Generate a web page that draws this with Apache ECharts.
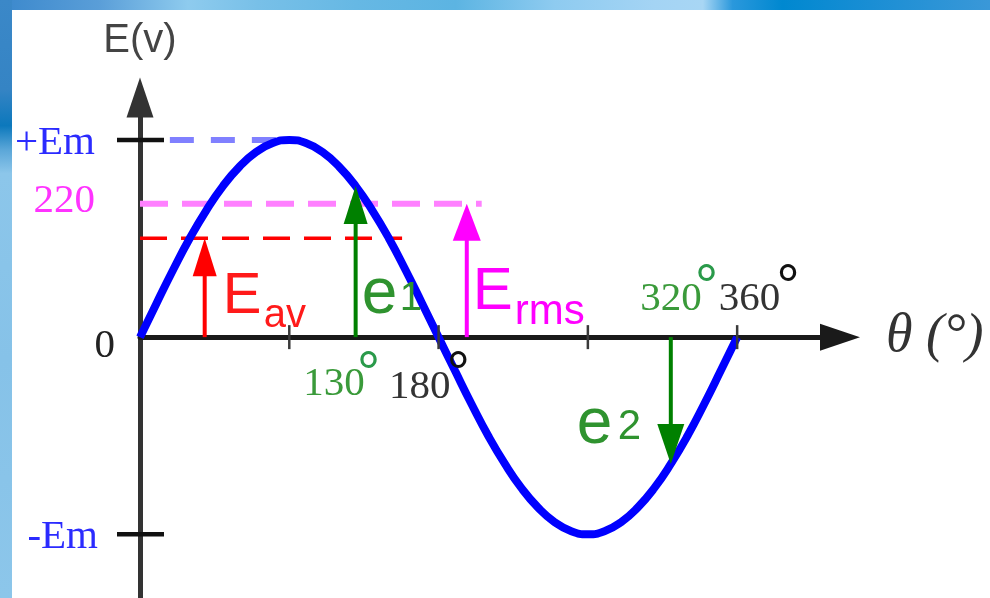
<!DOCTYPE html>
<html>
<head>
<meta charset="utf-8">
<script src="https://cdn.jsdelivr.net/npm/echarts@6/dist/echarts.min.js"></script>
<style>
  html, body { margin: 0; padding: 0; background: #fff; }
  #frame { position: relative; width: 990px; height: 598px; overflow: hidden; background: #fff; }
  #topbar { position: absolute; left: 0; top: 0; width: 990px; height: 10px;
    background: linear-gradient(90deg, #3b88cc 0%, #5a9ed8 10%, #8ecbee 19%, #78c0e8 26%, #66b8e4 36%,
      #5cb4e2 46%, #8ecbf0 56%, #a4d4f4 66%, #a8d6f4 71%, #2a98dc 74%, #0088d0 79%, #1a8ed4 88%, #3a98d8 100%); }
  #leftbar { position: absolute; left: 0; top: 0; width: 12px; height: 598px;
    background: linear-gradient(180deg, #3b88c8 0%, #3584c4 15%, #0c78bc 21%, #5aa6d8 25%, #8cc6ea 29%, #86c2e8 60%, #8cc6ea 100%); }
  #chart { position: absolute; left: 0; top: 0; width: 990px; height: 598px; }
</style>
</head>
<body>
<div id="frame"><div id="topbar"></div><div id="leftbar"></div><div id="chart"></div></div>
<script>
// Electromotive force over one cycle, sampled every 10 degrees (volts)
const angles = [0, 10, 20, 30, 40, 50, 60, 70, 80, 90, 100, 110, 120, 130, 140, 150, 160, 170, 180,
  190, 200, 210, 220, 230, 240, 250, 260, 270, 280, 290, 300, 310, 320, 330, 340, 350, 360];
const emf = [0, 56, 111, 163, 209, 249, 281, 305, 320, 325, 320, 305, 281, 249, 209, 163, 111, 56, 0,
  -56, -111, -163, -209, -249, -281, -305, -320, -325, -320, -305, -281, -249, -209, -163, -111, -56, 0];

// Characteristic levels (volts)
const EM = 325;
const E_RMS = 220;
const E_AV = 163;

// Reference dashed levels: [angle, level] end points
const emLevel = [[18, EM], [90, EM]];
const rmsLevel = [[0, E_RMS], [206, E_RMS]];
const avLevel = [[0, E_AV], [158, E_AV]];

// Axis ticks and labels
const xTickAngles = [90, 180, 270, 360];
const xTickLabels = ['', '180', '', '360'];
const yTickValues = [EM, -EM];
const yLabelValues = [EM, E_RMS, 0, -EM];
const yLabelTexts = ['+Em', '220', '0', '-Em'];

// Arrows: angle, value, name and subscript, angle label
const arrowAngles = [39, 130, 197, 320];
const arrowValues = [E_AV, 249, E_RMS, -209];
const arrowNames = ['E', 'e', 'E', 'e'];
const arrowSubs = ['av', '1', 'rms', '2'];
const arrowAngleLabels = ['', '130', '', '320'];

const SANS = '"Liberation Sans", Arial, sans-serif';
const SERIF = '"Liberation Serif", "Times New Roman", serif';
const GREEN = '#008000';
const RING_FONT = 'bold 54px ' + SERIF;

const arrowStyle = [
  { color: '#ff0000', text: '#ff1a1a', headW: 24, headLen: 38, main: [18, -40, 58], sub: [59, -21, 40] },
  { color: GREEN, text: '#2f932f', headW: 24, headLen: 38, main: [6, -42, 64], sub: [44, -38, 40],
    deg: { digits: [9, 47], ring: [2, 37] } },
  { color: '#ff00ff', text: '#ff00ff', headW: 28, headLen: 37, main: [6, -45, 60], sub: [48, -25, 42] },
  { color: GREEN, text: '#2f932f', headW: 27, headLen: 40, main: [-94, 88, 64], sub: [-53, 90, 42],
    deg: { digits: [31, -38], ring: [25, -50] } }
];

const yLabelStyle = [
  { color: '#2b2bff', dx: -45, dy: 3 },
  { color: '#ff33ff', dx: -45, dy: -2.5 },
  { color: '#222222', dx: -25, dy: 9.5 },
  { color: '#2b2bff', dx: -42, dy: 3 }
];

function renderArrow(params, api) {
  const i = params.dataIndex;
  const s = arrowStyle[i];
  const base = api.coord([api.value(0), 0]);
  const tip = api.coord([api.value(0), api.value(1)]);
  const dir = tip[1] < base[1] ? 1 : -1;
  const headBase = tip[1] + dir * s.headLen;
  const children = [
    { type: 'line', shape: { x1: base[0], y1: base[1], x2: tip[0], y2: headBase - dir * 2 },
      style: { stroke: s.color, lineWidth: 4 } },
    { type: 'polygon', shape: { points: [[tip[0], tip[1]], [tip[0] - s.headW / 2, headBase], [tip[0] + s.headW / 2, headBase]] },
      style: { fill: s.color } },
    { type: 'text', x: base[0] + s.main[0], y: base[1] + s.main[1],
      style: { text: arrowNames[i], font: s.main[2] + 'px ' + SANS, fill: s.text, align: 'left', verticalAlign: 'middle' } },
    { type: 'text', x: base[0] + s.sub[0], y: base[1] + s.sub[1],
      style: { text: arrowSubs[i], font: s.sub[2] + 'px ' + SANS, fill: s.text, align: 'left', verticalAlign: 'middle' } }
  ];
  if (s.deg && arrowAngleLabels[i]) {
    children.push(
      { type: 'text', x: base[0] + s.deg.digits[0], y: base[1] + s.deg.digits[1],
        style: { text: arrowAngleLabels[i], font: '41px ' + SERIF, fill: '#3a9a3a', align: 'right', verticalAlign: 'middle' } },
      { type: 'text', x: base[0] + s.deg.ring[0], y: base[1] + s.deg.ring[1],
        style: { text: '°', font: RING_FONT, fill: '#2a9a4a', align: 'left', verticalAlign: 'middle' } }
    );
  }
  return { type: 'group', children: children };
}

// Ticks crossing the angle axis, with degree labels at 180 and 360
function renderXTick(params, api) {
  const i = params.dataIndex;
  const p = api.coord([api.value(0), 0]);
  const children = [
    { type: 'line', shape: { x1: p[0], y1: p[1] - 12, x2: p[0], y2: p[1] + 12 }, style: { stroke: '#3a3a3a', lineWidth: 2.5 } }
  ];
  const t = xTickLabels[i];
  if (t) {
    const below = t === '180';
    const dRight = below ? 12 : 43;
    const dy = below ? 50 : -38;
    const ringDy = below ? 37 : -50;
    children.push(
      { type: 'text', x: p[0] + dRight, y: p[1] + dy,
        style: { text: t, font: '41px ' + SERIF, fill: '#333333', align: 'right', verticalAlign: 'middle' } },
      { type: 'text', x: p[0] + dRight - 3, y: p[1] + ringDy,
        style: { text: '°', font: RING_FONT, fill: '#111111', align: 'left', verticalAlign: 'middle' } }
    );
  }
  return { type: 'group', children: children };
}

// Horizontal ticks crossing the EMF axis
function renderYTick(params, api) {
  const p = api.coord([0, api.value(1)]);
  return { type: 'line', shape: { x1: p[0] - 23, y1: p[1], x2: p[0] + 24, y2: p[1] }, style: { stroke: '#111111', lineWidth: 4.5 } };
}

function renderYLabel(params, api) {
  const i = params.dataIndex;
  const s = yLabelStyle[i];
  const p = api.coord([0, api.value(1)]);
  return { type: 'text', x: p[0] + s.dx, y: p[1] + s.dy,
    style: { text: yLabelTexts[i], font: '41px ' + SERIF, fill: s.color, align: 'right', verticalAlign: 'middle' } };
}

const chart = echarts.init(document.getElementById('chart'), null, { renderer: 'canvas' });

chart.setOption({
  backgroundColor: 'transparent',
  animation: false,
  grid: { left: 140, right: 150, top: 97.5, bottom: 0, containLabel: false },
  xAxis: {
    type: 'value', min: 0, max: 422,
    splitLine: { show: false }, axisTick: { show: false }, axisLabel: { show: false },
    axisLine: { show: true, onZero: true, symbol: ['none', 'triangle'], symbolSize: [27, 40],
      lineStyle: { color: '#1a1a1a', width: 5 } },
    name: 'θ (°)', nameLocation: 'end', nameGap: 46,
    nameTextStyle: { fontFamily: SERIF, fontStyle: 'italic', fontSize: 54, color: '#333333', verticalAlign: 'middle', align: 'left' }
  },
  yAxis: {
    type: 'value', min: -430, max: 395,
    splitLine: { show: false }, axisTick: { show: false }, axisLabel: { show: false },
    axisLine: { show: true, onZero: true, symbol: ['none', 'triangle'], symbolSize: [27, 40],
      lineStyle: { color: '#333333', width: 5 } },
    name: 'E(v)', nameLocation: 'end', nameGap: 37,
    nameTextStyle: { fontFamily: SANS, fontSize: 40, color: '#444444', align: 'center' }
  },
  series: [
    { type: 'line', name: 'Em level', data: emLevel, symbol: 'none', silent: true, z: 2,
      lineStyle: { color: '#8080ff', width: 6, type: [24, 17] } },
    { type: 'line', name: 'Erms level', data: rmsLevel, symbol: 'none', silent: true, z: 2,
      lineStyle: { color: '#ff80ff', width: 6, type: [28, 14] } },
    { type: 'line', name: 'Eav level', data: avLevel, symbol: 'none', silent: true, z: 2,
      lineStyle: { color: '#ff0000', width: 3.5, type: [27, 14] } },
    { type: 'line', name: 'e', data: angles.map((a, k) => [a, emf[k]]), symbol: 'none', smooth: 0.5,
      silent: true, z: 3, lineStyle: { color: '#0000ff', width: 8 } },
    { type: 'custom', name: 'xTicks', data: xTickAngles.map(a => [a, 0]), renderItem: renderXTick, silent: true, z: 4 },
    { type: 'custom', name: 'yTicks', data: yTickValues.map(v => [0, v]), renderItem: renderYTick, silent: true, z: 4 },
    { type: 'custom', name: 'yLabels', data: yLabelValues.map(v => [0, v]), renderItem: renderYLabel, silent: true, z: 4 },
    { type: 'custom', name: 'arrows', data: arrowAngles.map((a, k) => [a, arrowValues[k]]), renderItem: renderArrow, silent: true, z: 5 }
  ]
});
</script>
</body>
</html>
